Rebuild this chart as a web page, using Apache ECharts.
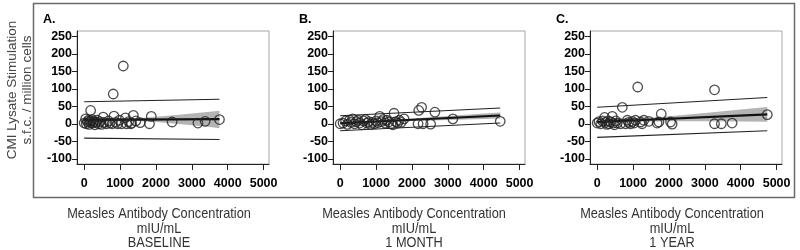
<!DOCTYPE html>
<html>
<head>
<meta charset="utf-8">
<script src="https://cdn.jsdelivr.net/npm/echarts@6/dist/echarts.min.js"></script>
<style>
  html, body { margin: 0; padding: 0; background: #fff; }
  #chart { width: 800px; height: 250px; }
</style>
</head>
<body>
<div id="chart"></div>
<script>
// tick labels
const xTicks = [0, 1000, 2000, 3000, 4000, 5000]
const yTicks = [-100, -50, 0, 50, 100, 150, 200, 250]

const panelLetters = ['A.', 'B.', 'C.']
const timepoints = ['BASELINE', '1 MONTH', '1 YEAR']

// scatter points [antibody, s.f.c.]
const pointsA = [[0, 2], [40, 14], [60, 0], [90, 6], [120, 10], [140, -2], [160, 4], [180, 38], [190, 8], [220, 12],
  [240, 2], [270, 6], [300, -3], [330, 4], [360, 10], [400, 0], [440, 6], [480, -2], [530, 19], [560, 4],
  [620, 0], [680, 8], [720, 2], [780, 0], [810, 85], [830, 22], [880, 4], [930, 0], [980, 10], [1040, 0],
  [1090, 165], [1150, 17], [1180, 0], [1240, 6], [1300, 0], [1320, 2], [1370, 24], [1440, 8], [1560, 3],
  [1820, 0], [1870, 21], [2450, 5], [3170, 2], [3370, 7], [3770, 12]]
const pointsB = [[0, 0], [80, 2], [150, 8], [200, -2], [260, 10], [300, 4], [350, 14], [400, 0], [450, 6], [500, 10],
  [540, 2], [600, -3], [650, 8], [700, 12], [750, 2], [800, 6], [850, -2], [900, 4], [950, 0], [1000, 8],
  [1050, 3], [1100, 21], [1150, 6], [1200, 12], [1250, 2], [1300, 10], [1350, 5], [1420, 0], [1470, -3],
  [1500, 30], [1550, 6], [1600, 2], [1650, 10], [1700, 4], [1780, 14], [2170, 0], [2190, 38], [2270, 47],
  [2310, 0], [2520, -1], [2640, 33], [3140, 14], [4460, 7]]
const pointsC = [[0, 2], [50, 6], [100, 0], [150, 8], [205, 18], [230, 4], [270, -2], [300, 8], [330, 0], [370, 6],
  [420, 21], [450, 2], [480, -3], [520, 8], [560, 2], [650, 0], [700, 47], [790, 0], [840, 10], [880, 4],
  [930, 0], [980, 6], [1030, 2], [1070, 10], [1130, 105], [1210, 5], [1250, 0], [1300, 10], [1440, 7],
  [1670, 2], [1720, 5], [1785, 28], [2045, 5], [2090, -1], [3270, 97], [3270, 0], [3460, 0], [3760, 2], [4740, 26]]

// fitted line and prediction limits (end points)
const fitA = [[0, 11], [3770, 13]]
const predUpperA = [[0, 63], [3770, 70]]
const predLowerA = [[0, -41], [3770, -45]]
const fitB = [[0, 1.5], [4460, 23.5]]
const predUpperB = [[0, 23], [4460, 45]]
const predLowerB = [[0, -20], [4460, 2]]
const fitC = [[0, 5], [4740, 27]]
const predUpperC = [[0, 47], [4740, 75]]
const predLowerC = [[0, -39], [4740, -20]]

// confidence band
const bandXA = [0, 500, 1000, 1500, 2000, 2500, 3000, 3500, 3770]
const bandUpperA = [17, 15, 14, 16, 20, 24, 29, 34, 37]
const bandLowerA = [5, 7, 8, 8, 5, 1, -4, -9, -13]
const bandXB = [0, 1000, 2000, 3000, 4000, 4460]
const bandUpperB = [6, 9.5, 15, 22, 29, 32]
const bandLowerB = [-3, 3.3, 7.8, 10.6, 13.4, 15]
const bandXC = [0, 1000, 2000, 3000, 4000, 4740]
const bandUpperC = [11, 13.6, 21.3, 30.9, 40.6, 48]
const bandLowerC = [-1, 5.6, 7.3, 6.9, 6.6, 6]

const panels = [
  { points: pointsA, fit: fitA, up: predUpperA, lo: predLowerA, bx: bandXA, bu: bandUpperA, bl: bandLowerA },
  { points: pointsB, fit: fitB, up: predUpperB, lo: predLowerB, bx: bandXB, bu: bandUpperB, bl: bandLowerB },
  { points: pointsC, fit: fitC, up: predUpperC, lo: predLowerC, bx: bandXC, bu: bandUpperC, bl: bandLowerC }
]

const gridLefts = [77, 333, 590]
const textCenters = [159, 414, 672]
const labelFont = '"Liberation Sans", Arial, sans-serif'

const chart = echarts.init(document.getElementById('chart'))

const grids = []
const xAxes = []
const yAxes = []
const series = []

panels.forEach((p, i) => {
  grids.push({ left: gridLefts[i], top: 31, width: 192, height: 133, show: true, borderColor: '#a8a8a8', borderWidth: 1 })
  xAxes.push({
    gridIndex: i, type: 'value', min: -200, max: 5150,
    splitLine: { show: false },
    axisLine: { show: true, onZero: false, lineStyle: { color: '#222', width: 1 } },
    axisTick: { show: true, customValues: xTicks, length: 6, lineStyle: { color: '#222' } },
    axisLabel: { customValues: xTicks, formatter: v => String(v), margin: 13, color: '#000',
      fontWeight: 'bold', fontSize: 12.5, fontFamily: labelFont }
  })
  yAxes.push({
    gridIndex: i, type: 'value', min: -115, max: 265,
    splitLine: { show: false },
    axisLine: { show: true, onZero: false, lineStyle: { color: '#222', width: 1 } },
    axisTick: { show: true, customValues: yTicks, length: 5, lineStyle: { color: '#222' } },
    axisLabel: { customValues: yTicks, formatter: v => String(v), margin: 5, color: '#000',
      fontWeight: 'bold', fontSize: 12.5, fontFamily: labelFont }
  })

  // confidence band drawn as a polygon through the axis scales
  series.push({
    type: 'custom', xAxisIndex: i, yAxisIndex: i, silent: true, z: 1,
    data: [[p.bx[0], p.bl[0]]],
    renderItem: (params, api) => {
      const upper = p.bx.map((x, k) => api.coord([x, p.bu[k]]))
      const lower = p.bx.map((x, k) => api.coord([x, p.bl[k]])).reverse()
      return { type: 'polygon', shape: { points: upper.concat(lower) }, style: { fill: '#b4b4b4' } }
    }
  })
  // prediction limits
  ;[p.up, p.lo].forEach(d => {
    series.push({
      type: 'line', xAxisIndex: i, yAxisIndex: i, data: d, symbol: 'none',
      lineStyle: { color: '#222', width: 1.1 }, z: 2
    })
  })
  // fitted line
  series.push({
    type: 'line', xAxisIndex: i, yAxisIndex: i, data: p.fit, symbol: 'none',
    lineStyle: { color: '#111', width: 2.2 }, z: 3
  })
  series.push({
    type: 'scatter', xAxisIndex: i, yAxisIndex: i, data: p.points,
    symbol: 'circle', symbolSize: 9.5,
    itemStyle: { color: 'rgba(255,255,255,0)', borderColor: '#222', borderWidth: 1.3 }, z: 4
  })
})

const graphics = [
  { type: 'rect', shape: { x: 33.5, y: 3.5, width: 761, height: 194 }, style: { fill: 'none', stroke: '#6a6a6a', lineWidth: 1.5 }, z: -1 },
  { type: 'text', x: 12, y: 90, rotation: Math.PI / 2,
    style: { text: 'CMI Lysate Stimulation', fill: '#444', font: '13.5px ' + labelFont, textAlign: 'center', textVerticalAlign: 'middle' } },
  { type: 'text', x: 27, y: 90, rotation: Math.PI / 2,
    style: { text: 's.f.c. / million cells', fill: '#444', font: '13.5px ' + labelFont, textAlign: 'center', textVerticalAlign: 'middle' } }
]

panelLetters.forEach((t, i) => {
  graphics.push({ type: 'text', x: gridLefts[i] - 34, y: 20,
    style: { text: t, fill: '#000', font: 'bold 12.5px ' + labelFont, textAlign: 'left', textVerticalAlign: 'middle' } })
  const lines = ['Measles Antibody Concentration', 'mIU/mL', timepoints[i]]
  lines.forEach((l, k) => {
    // narrow look: regular face squeezed horizontally
    graphics.push({ type: 'text', x: textCenters[i], y: 214 + k * 14.5, scaleX: 0.88,
      style: { text: l, fill: '#333', font: '14.5px ' + labelFont, textAlign: 'center', textVerticalAlign: 'middle' } })
  })
})

chart.setOption({
  animation: false,
  grid: grids,
  xAxis: xAxes,
  yAxis: yAxes,
  series: series,
  graphic: graphics
})
</script>
</body>
</html>
